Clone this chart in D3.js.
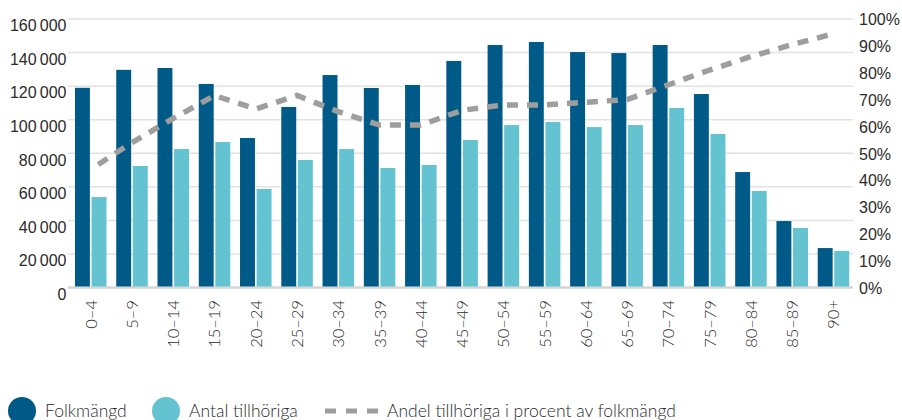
<!DOCTYPE html>
<html>
<head>
<meta charset="utf-8">
<script src="https://cdn.jsdelivr.net/npm/d3@7"></script>
<style>
  body { margin: 0; background: #fff; }
  svg { font-family: Lato, "Open Sans", sans-serif; display: block; }
  .axis text { fill: #2b2b2b; font-size: 16px; font-weight: 300; }
  .cats text { fill: #2b2b2b; font-size: 16.5px; font-weight: 300; }
  .legend text { fill: #2b2b2b; font-size: 17.5px; font-weight: 300; }
</style>
</head>
<body>
<div id="chart"></div>
<script>
// age groups and values
var ageGroups = ["0–4", "5–9", "10–14", "15–19", "20–24", "25–29", "30–34", "35–39", "40–44",
	"45–49", "50–54", "55–59", "60–64", "65–69", "70–74", "75–79", "80–84", "85–89", "90+"];

var folkmangd = [119000, 129700, 130800, 121300, 89100, 107600, 126600, 118900, 120700,
	135000, 144500, 146300, 140300, 139700, 144500, 115300, 68800, 39600, 23500];

var tillhoriga = [53900, 72400, 82500, 86700, 58700, 76000, 82500, 71200, 73000,
	87900, 96800, 98600, 95600, 96800, 107000, 91500, 57500, 35500, 21800];

// percent of folkmängd
var andel = [44, 54, 63, 71.5, 66.5, 71.5, 65.5, 60.5, 60.5,
	66, 68, 68, 69, 70, 75.5, 81, 86, 90.5, 94.5];

var leftTicks = [0, 20000, 40000, 60000, 80000, 100000, 120000, 140000, 160000];
var rightTicks = [0, 10, 20, 30, 40, 50, 60, 70, 80, 90, 100];

var legendItems = ["Folkmängd", "Antal tillhöriga", "Andel tillhöriga i procent av folkmängd"];

var width = 902,
	height = 420,
	plotLeft = 68,
	plotRight = 853,
	plotTop = 19,
	plotBottom = 287.5;

var darkBlue = "#005a87",
	lightBlue = "#63c3d1",
	lineGrey = "#9e9e9e";

var sv = d3.formatLocale({decimal: ",", thousands: "\u2009", grouping: [3], currency: ["", " kr"]});
var fmt = sv.format(",");

var svg = d3.select("#chart").append("svg")
	.attr("width", width)
	.attr("height", height);

var x = d3.scaleBand()
	.domain(ageGroups)
	.range([70.1, 854.1])
	.paddingInner(0.236)
	.paddingOuter(0.118);

var xInner = d3.scaleBand()
	.domain(["f", "t"])
	.range([0, x.bandwidth()])
	.paddingInner(0.1);

var y = d3.scaleLinear().domain([0, 160000]).range([plotBottom, plotTop]);
var y2 = d3.scaleLinear().domain([0, 100]).range([plotBottom, plotTop]);

// gridlines
svg.append("g")
	.selectAll("line")
	.data(leftTicks)
	.enter().append("line")
	.attr("x1", plotLeft)
	.attr("x2", plotRight)
	.attr("y1", function(d) { return y(d); })
	.attr("y2", function(d) { return y(d); })
	.attr("stroke", function(d) { return d === 0 ? "#d6d6d6" : "#e2e2e2"; })
	.attr("stroke-width", function(d) { return d === 0 ? 2.5 : 1.5; });

// bars
var groups = svg.append("g")
	.selectAll("g")
	.data(ageGroups)
	.enter().append("g")
	.attr("transform", function(d) { return "translate(" + x(d) + ",0)"; });

groups.append("rect")
	.attr("x", xInner("f"))
	.attr("width", xInner.bandwidth())
	.attr("y", function(d, i) { return y(folkmangd[i]); })
	.attr("height", function(d, i) { return y(0) - 1 - y(folkmangd[i]); })
	.attr("fill", darkBlue);

groups.append("rect")
	.attr("x", xInner("t"))
	.attr("width", xInner.bandwidth())
	.attr("y", function(d, i) { return y(tillhoriga[i]); })
	.attr("height", function(d, i) { return y(0) - 1 - y(tillhoriga[i]); })
	.attr("fill", lightBlue);

// percent line
var line = d3.line()
	.x(function(d, i) { return x(ageGroups[i]) + x.bandwidth() / 2; })
	.y(function(d) { return y2(d); });

svg.append("path")
	.datum(andel)
	.attr("d", line)
	.attr("fill", "none")
	.attr("stroke", lineGrey)
	.attr("stroke-width", 5.5)
	.attr("stroke-dasharray", "11,9")
	.attr("stroke-dashoffset", 11);

// left axis
var yAxis = svg.append("g")
	.attr("class", "axis")
	.attr("transform", "translate(" + plotLeft + ",0)")
	.call(d3.axisLeft(y).tickValues(leftTicks).tickSize(0).tickPadding(1.5).tickFormat(fmt));
yAxis.select(".domain").remove();
yAxis.selectAll("text").attr("dy", "0.74em");

// right axis
var y2Axis = svg.append("g")
	.attr("class", "axis")
	.attr("transform", "translate(" + plotRight + ",0)")
	.call(d3.axisRight(y2).tickValues(rightTicks).tickSize(0).tickPadding(6)
		.tickFormat(function(d) { return d + "%"; }));
y2Axis.select(".domain").remove();
y2Axis.selectAll("text").attr("dy", "0.36em");

// category labels
svg.append("g")
	.attr("class", "cats")
	.selectAll("text")
	.data(ageGroups)
	.enter().append("text")
	.attr("transform", function(d) {
		return "translate(" + (x(d) + x.bandwidth() / 2) + ",300) rotate(-90)";
	})
	.attr("text-anchor", "end")
	.attr("dy", "0.36em")
	.text(function(d) { return d; });

// legend
var legend = svg.append("g").attr("class", "legend");

legend.append("circle").attr("cx", 22).attr("cy", 411).attr("r", 14).attr("fill", darkBlue);
legend.append("text").attr("x", 45).attr("y", 416.5).text(legendItems[0]);

legend.append("circle").attr("cx", 166).attr("cy", 411).attr("r", 14).attr("fill", lightBlue);
legend.append("text").attr("x", 189).attr("y", 416.5).text(legendItems[1]);

legend.append("line")
	.attr("x1", 325).attr("x2", 379)
	.attr("y1", 411).attr("y2", 411)
	.attr("stroke", lineGrey)
	.attr("stroke-width", 5)
	.attr("stroke-dasharray", "11,10");
legend.append("text").attr("x", 387).attr("y", 416.5).text(legendItems[2]);
</script>
</body>
</html>
